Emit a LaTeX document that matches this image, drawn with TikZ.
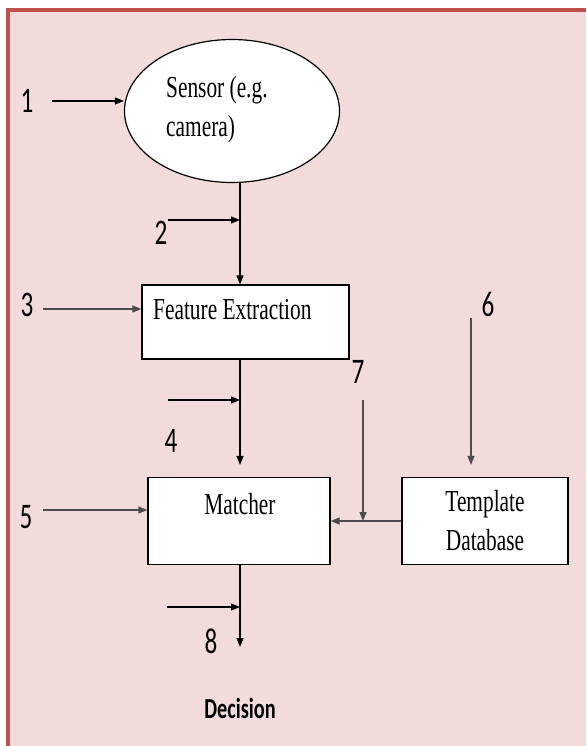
\documentclass[tikz,border=0pt]{standalone}
\usepackage{fontspec}
\setmainfont{Liberation Serif}
\newfontfamily\numfont{Carlito}
\usetikzlibrary{shapes.geometric,arrows.meta}
\definecolor{pinkbg}{RGB}{242,220,219}
\definecolor{bordred}{RGB}{192,80,77}
\newcommand{\squeezed}[1]{\scalebox{0.7}[1]{#1}}

\begin{document}
\begin{tikzpicture}[x=1pt,y=-1pt,
		arr/.style={line width=1.2pt,-{Triangle[length=9pt,width=7pt]}},
		arrg/.style={arr,draw=black!70,-{Triangle[length=9pt,width=7pt]}},
		box/.style={draw,line width=1.2pt,fill=white,inner sep=0pt},
		txt/.style={font=\fontsize{30.5}{39}\selectfont,inner sep=0pt},
		num/.style={font=\numfont\fontsize{36}{40}\selectfont,inner sep=0pt}]
					%\draw[help lines] (0,0) grid (586,746);
					\useasboundingbox (0,0) rectangle (586,746);
					\fill[white] (0,0) rectangle (586,746);
					\fill[pinkbg] (8,10) rectangle (586,746);
					\draw[line width=4pt,draw=bordred] (8,746) -- (8,10) -- (586,10);
					
					%BLOCKS
					\node[box,ellipse,minimum width=215pt,minimum height=143pt] (sensor) at (232,111) {};
					\node[txt,anchor=west,align=left] (sensortxt) at (166,110) {\squeezed{Sensor (e.g.}\\\squeezed{camera)}};
					\node[box,minimum width=207pt,minimum height=74pt] (feat) at (245.5,322) {};
					\node[txt,anchor=west] (feattxt) at (153,310) {\squeezed{Feature Extraction}};
					\node[box,minimum width=182pt,minimum height=87pt] (match) at (239,521) {};
					\node[txt] (matchtxt) at (240,504) {\squeezed{Matcher}};
					\node[box,txt,draw,fill=white,align=center,minimum width=166pt,minimum height=87pt] (tmpl) at (485,521) {\squeezed{Template}\\\squeezed{Database}};
					\node[font=\numfont\bfseries\fontsize{29}{32}\selectfont,inner sep=0pt] (decision) at (240,708) {\squeezed{Decision}};
					
					%POINTS
					\coordinate (a1) at (52,101);
					\coordinate (a2) at (168,220);
					\coordinate (c2) at (240,220);
					\coordinate (a3) at (43,309);
					\coordinate (a4) at (168,400);
					\coordinate (c4) at (240,400);
					\coordinate (a5) at (43,510);
					\coordinate (a6) at (471,318);
					\coordinate (a7) at (363,400);
					\coordinate (a8) at (167,607);
					\coordinate (c8) at (240,607);
					\coordinate (out) at (240,647);
					
					%NUMBERS
					\node[num] (n1) at (27,101) {\squeezed{1}};
					\node[num] (n2) at (161,233) {\squeezed{2}};
					\node[num] (n3) at (27,305) {\squeezed{3}};
					\node[num] (n4) at (171,441) {\squeezed{4}};
					\node[num] (n5) at (26,517) {\squeezed{5}};
					\node[num] (n6) at (488,304) {\squeezed{6}};
					\node[num] (n7) at (358,372) {\squeezed{7}};
					\node[num] (n8) at (211,641) {\squeezed{8}};
					
					%ARROWS
					\draw[arr] (a1) -- (a1 -| sensor.west);
					\draw[arr] (sensor.south -| c2) -- (feat.north -| c2);
					\draw[arr] (a2) -- (c2);
					\draw[arrg] (a3) -- (a3 -| feat.west);
					\draw[arr,shorten >=12pt] (feat.south -| c4) -- (match.north -| c4);
					\draw[arr] (a4) -- (c4);
					\draw[arrg] (a5) -- (a5 -| match.west);
					\draw[arrg,shorten >=12pt] (a6) -- (a6 |- tmpl.north);
					\draw[arrg] (tmpl.west) -- (match.east);
					\draw[arrg] (a7) -- (a7 |- match.east);
					\draw[arr] (match.south -| c8) -- (out);
					\draw[arr] (a8) -- (c8);
					
				  \end{tikzpicture}
\end{document}
